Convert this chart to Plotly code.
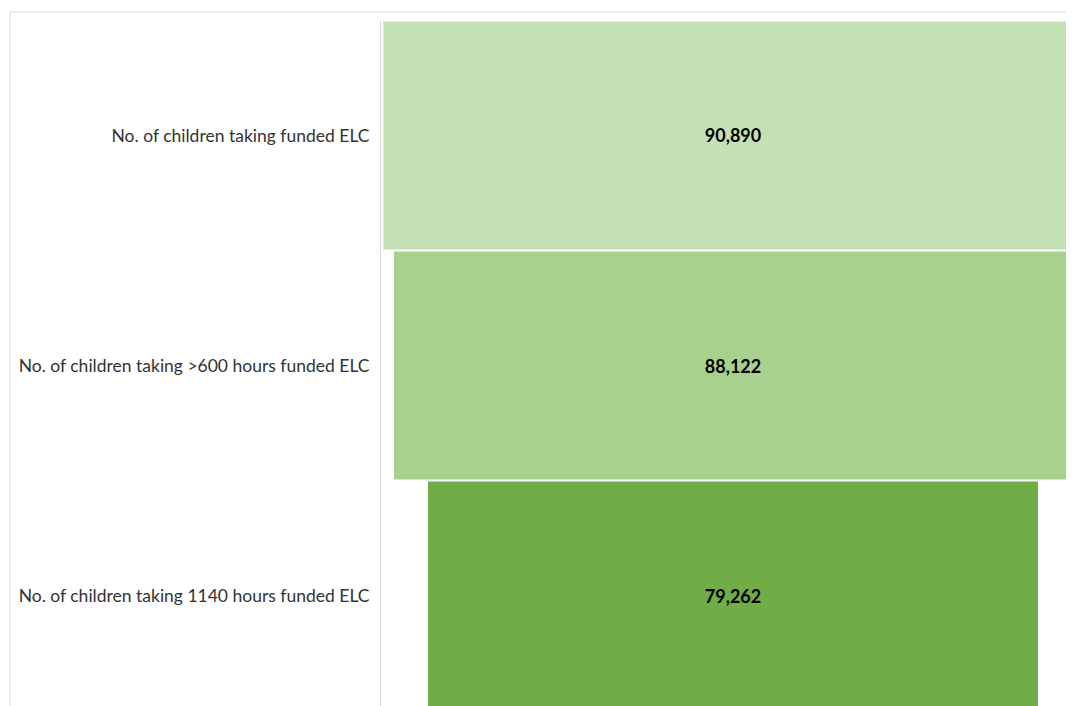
import plotly.graph_objects as go

categories = ["No. of children taking funded ELC",
              "No. of children taking >600 hours funded ELC",
              "No. of children taking 1140 hours funded ELC"]
values = [90890, 88122, 79262]
colors = ["#C5E0B4", "#A9D18E", "#70AD47"]

pos = list(range(len(categories)))

fig = go.Figure()
fig.add_trace(go.Bar(
    y=pos,
    x=values,
    base=[-v / 2 for v in values],
    orientation="h",
    width=0.991,
    marker=dict(color=colors, line=dict(width=0)),
    text=[f"{v:,}" for v in values],
    textposition="inside",
    insidetextanchor="middle",
    textangle=0,
    textfont=dict(family="Lato, Carlito, Calibri, sans-serif", size=18, color="#000000", weight="bold"),
    cliponaxis=True,
    hoverinfo="skip",
))

fig.update_layout(
    width=1066, height=698,
    margin=dict(l=373, r=0, t=13, b=0),
    paper_bgcolor="white",
    plot_bgcolor="white",
    showlegend=False,
    xaxis=dict(range=[-45739, 44310], showgrid=False, zeroline=False,
               showticklabels=False, showline=False, fixedrange=True),
    yaxis=dict(range=[2.4804, -0.4978], tickvals=pos, ticktext=categories,
               showgrid=False, zeroline=False, showline=True, linecolor="#D9D9D9",
               linewidth=1, ticks="outside", ticklen=7, tickcolor="rgba(0,0,0,0)",
               tickfont=dict(family="Lato, Carlito, Calibri, sans-serif", size=17.5, color="#333333")),
    shapes=[
        dict(type="line", xref="paper", yref="paper", x0=-0.5354, x1=1.0, y0=1.01314, y1=1.01314,
             line=dict(color="#D9D9D9", width=1)),
        dict(type="line", xref="paper", yref="paper", x0=-0.5354, x1=-0.5354, y0=-0.01, y1=1.01314,
             line=dict(color="#D9D9D9", width=1)),
    ],
)

fig.write_html("out.html")
